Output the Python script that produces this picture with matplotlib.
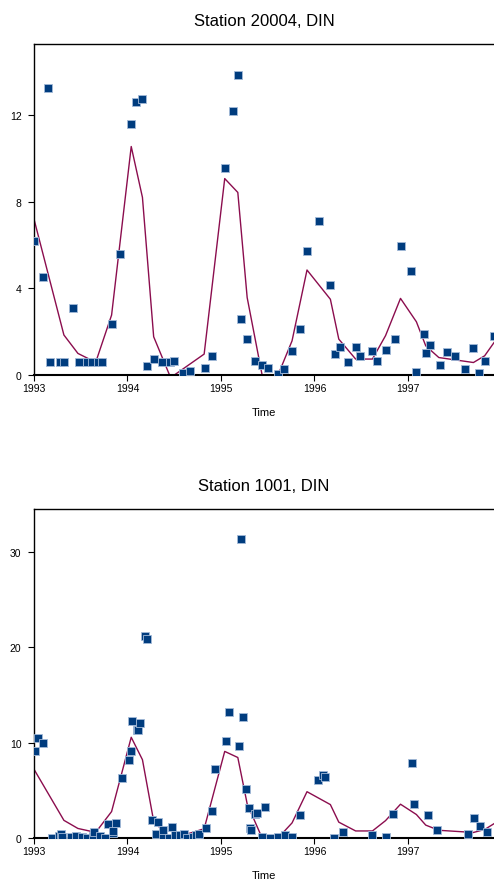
import matplotlib
matplotlib.use("Agg")
import matplotlib.pyplot as plt

plt.rcParams['font.family'] = ['Liberation Sans', 'DejaVu Sans']

# model curve (same in both panels)
model_time = [1993.0, 1993.32, 1993.47, 1993.66, 1993.83, 1994.04, 1994.16, 1994.28,
              1994.45, 1994.50, 1994.82, 1995.04, 1995.18, 1995.28, 1995.44, 1995.61,
              1995.76, 1995.92, 1996.17, 1996.26, 1996.44, 1996.62, 1996.76, 1996.92,
              1997.09, 1997.19, 1997.33, 1997.70, 1997.82, 1997.92]
model_din = [7.2, 1.85, 1.0, 0.59, 2.77, 10.55, 8.2, 1.77,
             0.0, 0.0, 0.97, 9.07, 8.43, 3.58, 0.0, 0.0,
             1.58, 4.85, 3.5, 1.66, 0.74, 0.74, 1.82, 3.54,
             2.46, 1.35, 0.81, 0.58, 0.89, 1.5]

# observations, station 20004
obs1_time = [1993.00, 1993.10, 1993.15, 1993.17, 1993.28, 1993.32, 1993.42, 1993.48,
             1993.57, 1993.62, 1993.68, 1993.73, 1993.83, 1993.92, 1994.04, 1994.09,
             1994.15, 1994.21, 1994.28, 1994.37, 1994.46, 1994.50, 1994.59, 1994.67,
             1994.83, 1994.90, 1995.04, 1995.13, 1995.18, 1995.21, 1995.28, 1995.36,
             1995.44, 1995.50, 1995.61, 1995.67, 1995.76, 1995.84, 1995.92, 1996.05,
             1996.17, 1996.22, 1996.27, 1996.36, 1996.44, 1996.49, 1996.61, 1996.67,
             1996.76, 1996.86, 1996.92, 1997.03, 1997.09, 1997.17, 1997.19, 1997.24,
             1997.34, 1997.42, 1997.50, 1997.61, 1997.70, 1997.76, 1997.82, 1997.92]
obs1_din = [6.17, 4.52, 13.26, 0.59, 0.59, 0.59, 3.09, 0.59,
            0.59, 0.59, 0.59, 0.59, 2.38, 5.58, 11.6, 12.6,
            12.74, 0.4, 0.74, 0.59, 0.59, 0.65, 0.09, 0.2,
            0.35, 0.88, 9.54, 12.18, 13.84, 2.58, 1.66, 0.63,
            0.46, 0.35, 0.07, 0.3, 1.09, 2.15, 5.72, 7.09,
            4.15, 0.97, 1.28, 0.59, 1.28, 0.88, 1.09, 0.65,
            1.15, 1.66, 5.95, 4.81, 0.14, 1.89, 1.02, 1.4,
            0.46, 1.05, 0.88, 0.29, 1.23, 0.08, 0.65, 1.81]

# observations, station 1001
obs2_time = [1993.01, 1993.04, 1993.10, 1993.19, 1993.27, 1993.29, 1993.30, 1993.40,
             1993.45, 1993.51, 1993.57, 1993.63, 1993.64, 1993.71, 1993.76, 1993.79,
             1993.84, 1993.85, 1993.88, 1993.94, 1994.02, 1994.04, 1994.05, 1994.10,
             1994.11, 1994.13, 1994.19, 1994.21, 1994.26, 1994.30, 1994.33, 1994.375,
             1994.38, 1994.44, 1994.48, 1994.51, 1994.56, 1994.60, 1994.64, 1994.70,
             1994.73, 1994.77, 1994.84, 1994.90, 1994.94, 1995.05, 1995.09, 1995.19,
             1995.21, 1995.24, 1995.27, 1995.30, 1995.31, 1995.32, 1995.36, 1995.38,
             1995.44, 1995.475, 1995.52, 1995.61, 1995.69, 1995.76, 1995.85, 1996.04,
             1996.09, 1996.11, 1996.21, 1996.30, 1996.61, 1996.76, 1996.84, 1997.04,
             1997.06, 1997.21, 1997.31, 1997.64, 1997.71, 1997.77, 1997.84]
obs2_din = [9.16, 10.52, 9.93, 0.0, 0.17, 0.45, 0.07, 0.1,
            0.17, 0.1, 0.0, 0.17, 0.6, 0.17, 0.0, 1.43,
            0.52, 0.73, 1.57, 6.31, 8.22, 9.09, 12.23, 11.36,
            11.36, 12.02, 21.18, 20.84, 1.92, 0.45, 1.67, 0.07,
            0.87, 0.0, 1.15, 0.35, 0.35, 0.45, 0.0, 0.1,
            0.28, 0.45, 1.0, 2.86, 7.19, 10.2, 13.16, 9.63,
            31.3, 12.64, 5.13, 3.11, 1.08, 0.8, 2.5, 2.6,
            0.1, 3.2, 0.0, 0.07, 0.28, 0.07, 2.37, 6.03,
            6.55, 6.38, 0.0, 0.63, 0.28, 0.1, 2.54, 7.87,
            3.59, 2.37, 0.87, 0.42, 2.06, 1.22, 0.59]

year_ticks = [1993, 1994, 1995, 1996, 1997]

fig = plt.figure(figsize=(4.94, 8.87), dpi=100)
ax1 = fig.add_axes([0.0688, 0.576, 0.9312, 0.373])
ax2 = fig.add_axes([0.0688, 0.0541, 0.9312, 0.3709])


def panel(ax, t, v, title, yticks, ymax):
    ax.plot(model_time, model_din, color='#8b0d4e', linewidth=1.0, zorder=2)
    ax.plot(t, v, linestyle='none', marker='s', markersize=6,
            markerfacecolor='#003c7e', markeredgecolor='#a3bad8',
            markeredgewidth=0.6, zorder=3)
    ax.set_xlim(1993, 1997.92)
    ax.set_ylim(0, ymax)
    ax.set_xticks(year_ticks)
    ax.set_yticks(yticks)
    ax.set_title(title, fontsize=12, pad=14)
    ax.set_xlabel('Time', fontsize=8, labelpad=10)
    ax.spines['right'].set_visible(False)
    ax.spines['left'].set_linewidth(1.0)
    ax.spines['top'].set_linewidth(1.0)
    ax.spines['bottom'].set_linewidth(1.5)
    ax.tick_params(axis='x', direction='out', length=4, width=0.8, pad=2, labelsize=7.5)
    ax.tick_params(axis='y', direction='out', length=4, width=0.8, pad=5, labelsize=7.5)


panel(ax1, obs1_time, obs1_din, 'Station 20004, DIN', [0, 4, 8, 12], 15.27)
panel(ax2, obs2_time, obs2_din, 'Station 1001, DIN', [0, 10, 20, 30], 34.45)

fig.savefig('out.png', dpi=100)
